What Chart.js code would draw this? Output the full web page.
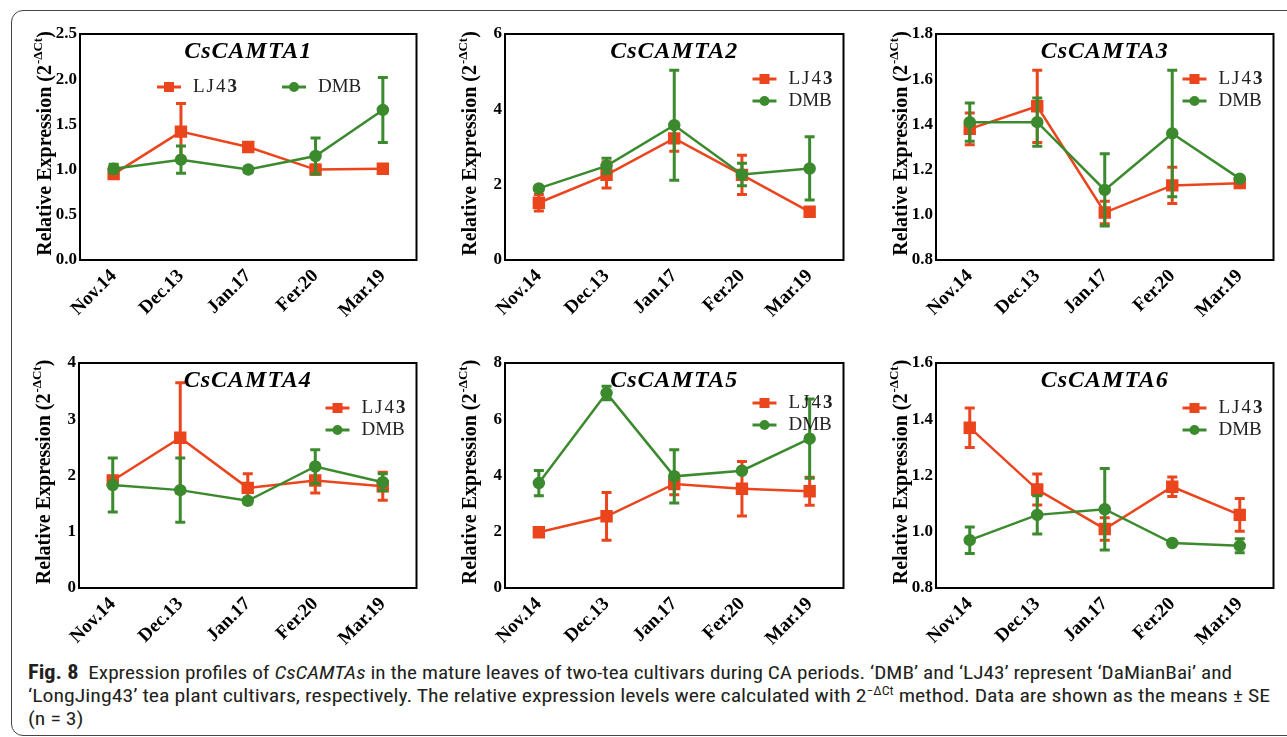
<!DOCTYPE html>
<html>
<head>
<meta charset="utf-8">
<script src="https://cdn.jsdelivr.net/npm/chart.js@4.4.1/dist/chart.umd.min.js"></script>
<style>
  body { margin: 0; width: 1287px; height: 737px; background: #fff; position: relative; overflow: hidden; }
  #frame { position: absolute; left: 11px; top: 10px; width: 1300px; height: 724px; border: 1px solid #444; border-radius: 12px; }
  .panel { position: absolute; }
  #caption { position: absolute; left: 28px; top: 661px; color: #231f20;
    font-family: 'Liberation Sans Narrow', 'Roboto Condensed', 'Open Sans', sans-serif; font-size: 19px; }
  #caption .ln { white-space: nowrap; line-height: 23px; transform-origin: 0 0; display: inline-block; }
  #caption b { font-weight: bold; font-size: 20px; }
  #caption sup { font-size: 12px; vertical-align: 7px; line-height: 0; }
</style>
</head>
<body>
<div id="frame"></div>
<div id="charts"></div>
<div id="caption">
  <div class="ln" data-w="1204"><b>Fig. 8</b>&nbsp; Expression profiles of <i>CsCAMTAs</i> in the mature leaves of two-tea cultivars during CA periods. ‘DMB’ and ‘LJ43’ represent ‘DaMianBai’ and</div><br>
  <div class="ln" data-w="1242">‘LongJing43’ tea plant cultivars, respectively. The relative expression levels were calculated with 2<sup>−ΔCt</sup> method. Data are shown as the means ± SE</div><br>
  <div class="ln" data-w="0">(n = 3)</div>
</div>
<script>
// categories
var months = ['Nov.14', 'Dec.13', 'Jan.17', 'Fer.20', 'Mar.19'];
var genes = ['CsCAMTA1', 'CsCAMTA2', 'CsCAMTA3', 'CsCAMTA4', 'CsCAMTA5', 'CsCAMTA6'];

// LJ43 means and SE, one row per gene
var lj43 = [
  [0.95, 1.42, 1.25, 1.00, 1.01],
  [1.52, 2.26, 3.23, 2.26, 1.28],
  [1.38, 1.48, 1.01, 1.13, 1.14],
  [1.91, 2.67, 1.78, 1.91, 1.81],
  [1.98, 2.55, 3.70, 3.53, 3.44],
  [1.37, 1.15, 1.01, 1.16, 1.06]
];
var lj43SE = [
  [0.03, 0.31, 0.05, 0.05, 0.04],
  [0.22, 0.35, 0.34, 0.52, 0.04],
  [0.07, 0.16, 0.05, 0.08, 0.01],
  [0.05, 0.98, 0.25, 0.22, 0.25],
  [0.05, 0.85, 0.38, 0.97, 0.50],
  [0.07, 0.055, 0.04, 0.035, 0.058]
];

// DMB means and SE
var dmb = [
  [1.01, 1.11, 1.00, 1.15, 1.66],
  [1.90, 2.50, 3.58, 2.27, 2.43],
  [1.41, 1.41, 1.11, 1.36, 1.16],
  [1.83, 1.74, 1.55, 2.16, 1.88],
  [3.73, 6.93, 3.97, 4.17, 5.31],
  [0.97, 1.06, 1.08, 0.96, 0.95]
];
var dmbSE = [
  [0.05, 0.15, 0.03, 0.20, 0.36],
  [0.05, 0.20, 1.46, 0.30, 0.84],
  [0.085, 0.107, 0.16, 0.28, 0.01],
  [0.48, 0.57, 0.05, 0.30, 0.15],
  [0.45, 0.24, 0.95, 0.05, 1.41],
  [0.047, 0.068, 0.145, 0.005, 0.025]
];

// y axis ticks
var yMin = [0, 0, 0.8, 0, 0, 0.8];
var yMax = [2.5, 6, 1.8, 4, 8, 1.6];
var yStep = [0.5, 2, 0.2, 1, 2, 0.2];
var yDecimals = [1, 0, 1, 0, 0, 1];

// plot boxes on the page: left, top, right, bottom
var boxes = [
  [80, 34, 418, 260], [505, 34, 845, 260], [936, 34, 1275, 260],
  [79, 363, 418, 588], [505, 363, 845, 588], [936, 363, 1275, 588]
];
var AXW = 62, PADT = 24, PADR = 8, AXH = 72;
var RED = '#ea451d', GREEN = '#3c8a2e';
var SERIF = "'Liberation Serif', 'DejaVu Serif', serif";

// error bars, drawn right after each dataset
var errorBars = {
  id: 'errorBars',
  afterDatasetDraw: function(chart, args) {
    var ds = chart.data.datasets[args.index];
    var ctx = chart.ctx, y = chart.scales.y;
    ctx.save();
    ctx.strokeStyle = ds.borderColor;
    ctx.lineWidth = 3;
    args.meta.data.forEach(function(pt, i) {
      var top = y.getPixelForValue(ds.data[i] + ds.se[i]);
      var bot = y.getPixelForValue(ds.data[i] - ds.se[i]);
      ctx.beginPath();
      ctx.moveTo(pt.x, top); ctx.lineTo(pt.x, bot);
      ctx.moveTo(pt.x - 5, top); ctx.lineTo(pt.x + 5, top);
      ctx.moveTo(pt.x - 5, bot); ctx.lineTo(pt.x + 5, bot);
      ctx.stroke();
    });
    ctx.restore();
  }
};

function drawLegendItem(ctx, ds, x, y) {
  ctx.save();
  ctx.strokeStyle = ds.borderColor;
  ctx.lineWidth = 3;
  ctx.beginPath(); ctx.moveTo(x, y); ctx.lineTo(x + 24, y); ctx.stroke();
  ctx.fillStyle = ds.borderColor;
  if (ds.pointStyle === 'rect') ctx.fillRect(x + 7, y - 5, 10, 10);
  else { ctx.beginPath(); ctx.arc(x + 12, y, 5, 0, Math.PI * 2); ctx.fill(); }
  ctx.fillStyle = '#222';
  ctx.textBaseline = 'middle';
  ctx.textAlign = 'left';
  var tx = x + 36;
  if (ds.label === 'LJ43') {
    ctx.font = '19px ' + SERIF;
    ctx.letterSpacing = '2px';
    ctx.fillText('LJ4', tx, y);
    tx += ctx.measureText('LJ4').width;
    ctx.font = 'bold 19px ' + SERIF;
    ctx.fillText('3', tx, y);
    ctx.letterSpacing = '0px';
  } else {
    ctx.font = '19px ' + SERIF;
    ctx.fillText(ds.label, tx, y);
  }
  ctx.restore();
}

// frame, gene name, legend and y axis title
var decor = {
  id: 'decor',
  afterDraw: function(chart) {
    var ctx = chart.ctx, a = chart.chartArea, k = chart.options.plugins.decor;
    ctx.save();
    ctx.strokeStyle = '#000';
    ctx.lineWidth = 2;
    ctx.strokeRect(a.left, a.top, a.right - a.left, a.bottom - a.top);

    ctx.fillStyle = '#000';
    ctx.font = 'italic bold 24px ' + SERIF;
    ctx.letterSpacing = '1px';
    ctx.textAlign = 'center';
    ctx.textBaseline = 'middle';
    ctx.fillText(k.gene, (a.left + a.right) / 2, a.top + 18);
    ctx.letterSpacing = '0px';

    var sets = chart.data.datasets;
    if (k.row) {
      drawLegendItem(ctx, sets[0], a.left + 77, a.top + 53);
      drawLegendItem(ctx, sets[1], a.left + 202, a.top + 53);
    } else {
      drawLegendItem(ctx, sets[0], a.right - 91, a.top + k.ly);
      drawLegendItem(ctx, sets[1], a.right - 91, a.top + k.ly + 22);
    }

    // rotated title with superscript
    ctx.translate(a.left - 36, (a.top + a.bottom) / 2 - 3);
    ctx.rotate(-Math.PI / 2);
    ctx.textAlign = 'left';
    ctx.textBaseline = 'alphabetic';
    var main = 'Relative Expression (2', sup = '-ΔCt';
    ctx.font = 'bold 20px ' + SERIF;
    var w1 = ctx.measureText(main).width, w3 = ctx.measureText(')').width;
    ctx.font = 'bold 13px ' + SERIF;
    var w2 = ctx.measureText(sup).width;
    var x0 = -(w1 + w2 + w3) / 2;
    ctx.font = 'bold 20px ' + SERIF;
    ctx.fillText(main, x0, 7);
    ctx.fillText(')', x0 + w1 + w2 + 1, 7);
    ctx.font = 'bold 13px ' + SERIF;
    ctx.fillText(sup, x0 + w1 + 1, -2);
    ctx.restore();
  }
};

var holder = document.getElementById('charts');
genes.forEach(function(gene, g) {
  var b = boxes[g];
  var cv = document.createElement('canvas');
  var w = (b[2] - b[0]) + AXW + PADR, h = (b[3] - b[1]) + PADT + AXH;
  cv.width = w; cv.height = h;
  cv.className = 'panel';
  cv.style.left = (b[0] - AXW) + 'px';
  cv.style.top = (b[1] - PADT) + 'px';
  cv.style.width = w + 'px';
  cv.style.height = h + 'px';
  holder.appendChild(cv);

  new Chart(cv.getContext('2d'), {
    type: 'line',
    data: {
      labels: months,
      datasets: [{
        label: 'LJ43',
        data: lj43[g],
        se: lj43SE[g],
        borderColor: RED,
        backgroundColor: RED,
        borderWidth: 2.5,
        pointStyle: 'rect',
        pointRadius: 7,
        order: 2
      }, {
        label: 'DMB',
        data: dmb[g],
        se: dmbSE[g],
        borderColor: GREEN,
        backgroundColor: GREEN,
        borderWidth: 2.5,
        pointStyle: 'circle',
        pointRadius: 5,
        order: 1
      }]
    },
    options: {
      responsive: false,
      animation: false,
      events: [],
      layout: { padding: { top: PADT, right: PADR, left: 0, bottom: 0 } },
      plugins: {
        legend: { display: false },
        tooltip: { enabled: false },
        decor: { gene: gene, row: g === 0, ly: g === 4 ? 40 : 45 }
      },
      scales: {
        x: {
          offset: true,
          grid: { display: false, drawTicks: false },
          border: { display: false },
          ticks: {
            color: '#000', padding: 5, minRotation: 45, maxRotation: 45,
            font: { family: SERIF, size: 19, weight: 'bold' }
          },
          afterFit: function(s) { s.height = AXH; }
        },
        y: {
          min: yMin[g], max: yMax[g],
          grid: { display: false, drawTicks: false },
          border: { display: false },
          ticks: {
            stepSize: yStep[g], color: '#000', padding: 3,
            font: { family: SERIF, size: 17, weight: 'bold' },
            callback: function(v) { return Number(v).toFixed(yDecimals[g]); }
          },
          afterFit: function(s) { s.width = AXW; }
        }
      }
    },
    plugins: [errorBars, decor]
  });
});

// stretch caption lines to the widths in the figure
var lines = document.querySelectorAll('#caption .ln');
var sx = 1;
lines.forEach(function(el) {
  var target = Number(el.getAttribute('data-w'));
  if (target > 0) sx = target / el.getBoundingClientRect().width;
  el.style.transform = 'scaleX(' + sx + ')';
});
</script>
</body>
</html>
